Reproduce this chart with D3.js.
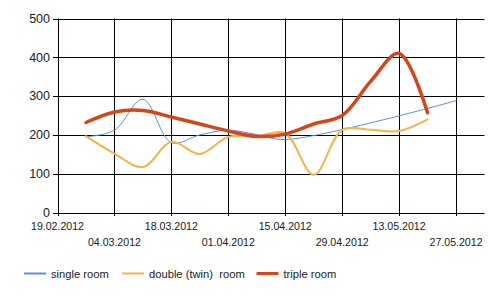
<!DOCTYPE html>
<html>
<head>
<meta charset="utf-8">
<script src="https://cdn.jsdelivr.net/npm/d3@7"></script>
<style>
  body { margin: 0; background: #fff; }
  text { font-family: Arial, "Liberation Sans", sans-serif; fill: #222; white-space: pre; }
</style>
</head>
<body>
<div id="chart"></div>
<script>
// weekly dates and prices per room type
var dates = ["26.02.2012","04.03.2012","11.03.2012","18.03.2012","25.03.2012","01.04.2012","08.04.2012",
             "15.04.2012","22.04.2012","29.04.2012","06.05.2012","13.05.2012","20.05.2012","27.05.2012"];
var single = [195, 212, 292, 180, 200, 212, 201, 188, null, null, null, null, null, 288];
var twin   = [197, 152, 117, 182, 151, 195, 197, 204, 97, 213, 213, 210, 240, null];
var triple = [232, 259, 263, 246, 228, 210, 196, 202, 228, 250, 338, 410, 257, null];
var tickDates = ["19.02.2012","04.03.2012","18.03.2012","01.04.2012","15.04.2012","29.04.2012","13.05.2012","27.05.2012"];
var yTicks = [0, 100, 200, 300, 400, 500];
var seriesNames = ["single room", "double (twin)  room", "triple room"];

var parse = d3.timeParse("%d.%m.%Y");
var colors = ["#5b8fdd", "#f5b445", "#d4461b"];
var widths = [1, 2, 3.5];
var legendWidths = [2, 2, 3];

var width = 500, height = 296;
var svg = d3.select("#chart").append("svg")
  .attr("width", width)
  .attr("height", height);

var x = d3.scaleTime()
  .domain([parse("19.02.2012"), parse("03.06.2012")])
  .range([57.5, 484.5]);
var y = d3.scaleLinear()
  .domain([0, 500])
  .range([212.5, 18.5]);

// horizontal grid + y ticks
var grid = svg.append("g");
grid.selectAll(".hl")
  .data(yTicks)
  .enter().append("line")
    .attr("x1", 53).attr("x2", 484.5)
    .attr("y1", function(d){ return Math.round(y(d)) + 0.5; })
    .attr("y2", function(d){ return Math.round(y(d)) + 0.5; })
    .attr("stroke", "#000");

grid.selectAll(".vl")
  .data(tickDates)
  .enter().append("line")
    .attr("x1", function(d){ return Math.round(x(parse(d))) + 0.5; })
    .attr("x2", function(d){ return Math.round(x(parse(d))) + 0.5; })
    .attr("y1", y(500)).attr("y2", 216)
    .attr("stroke", "#000");

svg.append("g").selectAll("text")
  .data(yTicks)
  .enter().append("text")
    .attr("x", 50)
    .attr("y", function(d){ return y(d); })
    .attr("dy", "0.35em")
    .attr("text-anchor", "end")
    .style("font-size", "12.5px")
    .text(function(d){ return d; });

svg.append("g").selectAll("text")
  .data(tickDates)
  .enter().append("text")
    .attr("x", function(d){ return x(parse(d)); })
    .attr("y", function(d, i){ return i % 2 ? 246 : 229.5; })
    .attr("text-anchor", "middle")
    .style("font-size", "10.6px")
    .text(function(d){ return d; });

// series lines
var line = d3.line()
  .defined(function(d){ return d.v != null; })
  .x(function(d){ return x(d.date); })
  .y(function(d){ return y(d.v); })
  .curve(d3.curveCatmullRom);

[single, twin, triple].forEach(function(vals, k){
  var pts = vals.map(function(v, i){ return {date: parse(dates[i]), v: v}; })
    .filter(function(d){ return d.v != null; });
  svg.append("path")
    .datum(pts)
    .attr("d", line)
    .attr("fill", "none")
    .attr("stroke", colors[k])
    .attr("stroke-width", widths[k])
    .attr("stroke-linejoin", "round")
    .attr("stroke-linecap", "round");
});

// legend
var legX = [24, 122, 256.5];
var leg = svg.append("g");
seriesNames.forEach(function(name, k){
  leg.append("line")
    .attr("x1", legX[k]).attr("x2", legX[k] + 22)
    .attr("y1", 273.5).attr("y2", 273.5)
    .attr("stroke", colors[k])
    .attr("stroke-width", legendWidths[k]);
  leg.append("text")
    .attr("x", legX[k] + 27)
    .attr("y", 277.5)
    .style("font-size", "11.2px")
    .text(name);
});
</script>
</body>
</html>
